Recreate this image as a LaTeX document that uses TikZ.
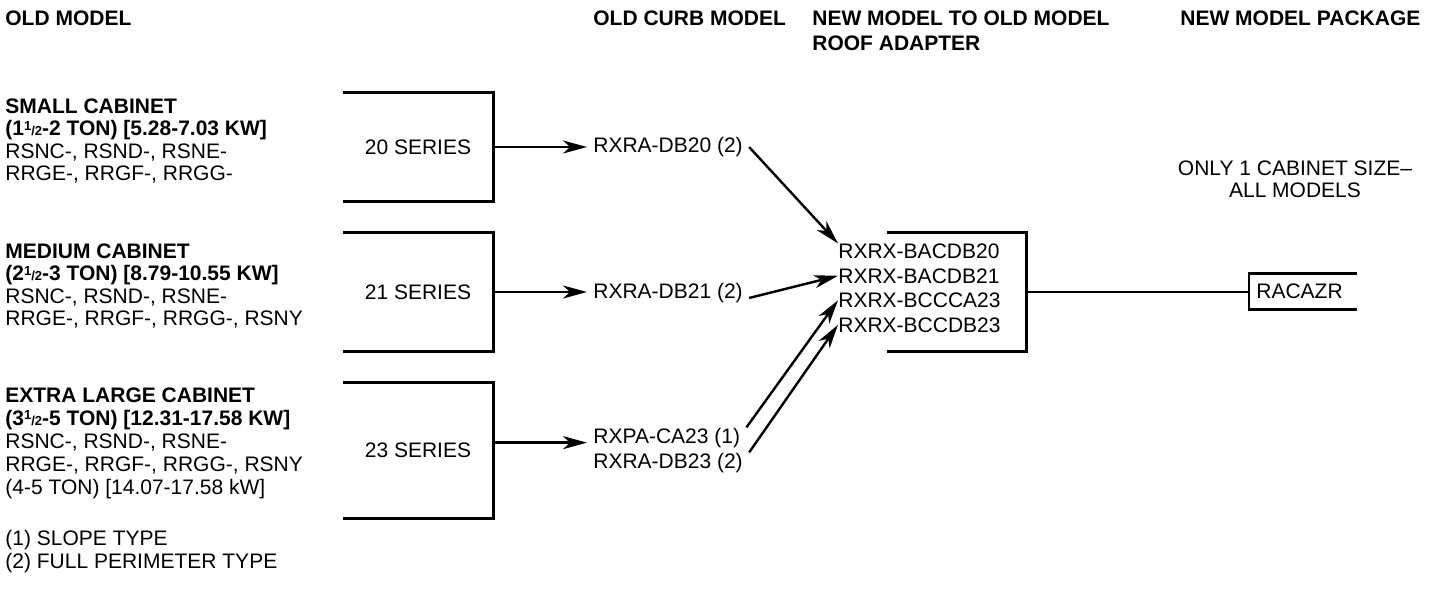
\documentclass[tikz,border=0pt]{standalone}
\usepackage{fontspec}
\setmainfont{Liberation Sans}
\usetikzlibrary{arrows.meta,calc}

\newcommand{\demi}[1]{#1{\fontsize{6.5}{6.5}\selectfont\raisebox{0.42em}{1}/2}}

\begin{document}
\begin{tikzpicture}[x=0.5pt, y=-0.5pt,
  every node/.style={font=\fontsize{10.5}{12}\selectfont, inner sep=0pt},
  txt/.style={anchor=base west},
  titre/.style={anchor=base west, font=\fontsize{10.5}{12}\selectfont\bfseries},
  serie/.style={minimum width=75pt},
  curb/.style={anchor=base west, inner xsep=3pt},
  trait/.style={line width=1.2pt},
  fleche/.style={line width=1.2pt, -{Stealth[length=12pt, width=6.5pt, inset=3.5pt]}}]

  \useasboundingbox (0,0) rectangle (1436,589);

  % titres des colonnes
  \node[titre] (hOld) at (5,25.5) {OLD MODEL};
  \node[titre] (hCurb) at (593,25.5) {OLD CURB MODEL};
  \node[titre] (hAdapt) at (812,25.5) {NEW MODEL TO OLD MODEL};
  \node[titre] (hRoof) at (812,50.5) {ROOF ADAPTER};
  \node[titre] (hPkg) at (1180,25.5) {NEW MODEL PACKAGE};

  % anciens modeles
  \node[titre] (small) at (5,113) {SMALL CABINET};
  \node[titre] (smallTon) at (5,135.5) {(\demi{1}-2 TON) [5.28-7.03 KW]};
  \node[txt] (smallA) at (5,158) {RSNC-, RSND-, RSNE-};
  \node[txt] (smallB) at (5,180.5) {RRGE-, RRGF-, RRGG-};

  \node[titre] (medium) at (5,258) {MEDIUM CABINET};
  \node[titre] (mediumTon) at (5,280.5) {(\demi{2}-3 TON) [8.79-10.55 KW]};
  \node[txt] (mediumA) at (5,303) {RSNC-, RSND-, RSNE-};
  \node[txt] (mediumB) at (5,325.5) {RRGE-, RRGF-, RRGG-, RSNY};

  \node[titre] (xl) at (5,402) {EXTRA LARGE CABINET};
  \node[titre] (xlTon) at (5,425) {(\demi{3}-5 TON) [12.31-17.58 KW]};
  \node[txt] (xlA) at (5,448) {RSNC-, RSND-, RSNE-};
  \node[txt] (xlB) at (5,471) {RRGE-, RRGF-, RRGG-, RSNY};
  \node[txt] (xlC) at (5,494) {(4-5 TON) [14.07-17.58 kW]};

  % notes
  \node[txt] (note1) at (5,545) {(1) SLOPE TYPE};
  \node[txt] (note2) at (5,568) {(2) FULL PERIMETER TYPE};

  % series
  \node[serie, minimum height=54pt] (s20) at (418,147) {20 SERIES};
  \node[serie, minimum height=59pt] (s21) at (418,292) {21 SERIES};
  \node[serie, minimum height=67.5pt] (s23) at (418,450.5) {23 SERIES};

  % anciens cadres
  \node[curb] (c20) at (587,152.5) {RXRA-DB20 (2)};
  \node[curb] (c21) at (587,298) {RXRA-DB21 (2)};
  \node[curb] (c23a) at (587,443) {RXPA-CA23 (1)};
  \node[curb] (c23b) at (587,468) {RXRA-DB23 (2)};

  % adaptateurs
  \node[minimum width=69.5pt, minimum height=59pt] (adapt) at (956.5,292) {};
  \node[txt] (a20) at (838,258.5) {RXRX-BACDB20};
  \node[txt] (a21) at (838,283) {RXRX-BACDB21};
  \node[txt] (aca) at (838,307.5) {RXRX-BCCCA23};
  \node[txt] (adb) at (838,332) {RXRX-BCCDB23};

  % nouveau modele
  \node[anchor=base] (only) at (1295,175) {ONLY 1 CABINET SIZE–};
  \node[anchor=base] (allm) at (1295,197) {ALL MODELS};
  \node[anchor=west, minimum height=17.5pt, text width=46.5pt, inner xsep=3.5pt, align=left] (pkg) at (1249,291.5) {RACAZR};

  % crochets
  \foreach \b in {s20,s21,s23,adapt}
    \draw[trait] (\b.north west) -- (\b.north east) -- (\b.south east) -- (\b.south west);
  \draw[trait] (pkg.north east) -- (pkg.north west) -- (pkg.south west) -- (pkg.south east);
  \draw[trait] (adapt.east) -- (adapt.east -| pkg.west);

  % fleches
  \coordinate (p23) at ($(c23a.west)!0.5!(c23a.south west)$);
  \draw[fleche] (s20.east) -- (s20.east -| c20.west);
  \draw[fleche] (s21.east) -- (s21.east -| c21.west);
  \draw[fleche] (s23.east |- p23) -- (p23);
  \draw[fleche] (c20.east) -- (a20.north west);
  \draw[fleche] (c21.base east) -- (a21.west);
  \draw[fleche] (c23a.north east) -- (aca.west);
  \draw[fleche] (c23b.north east) -- (adb.west);
\end{tikzpicture}
\end{document}
